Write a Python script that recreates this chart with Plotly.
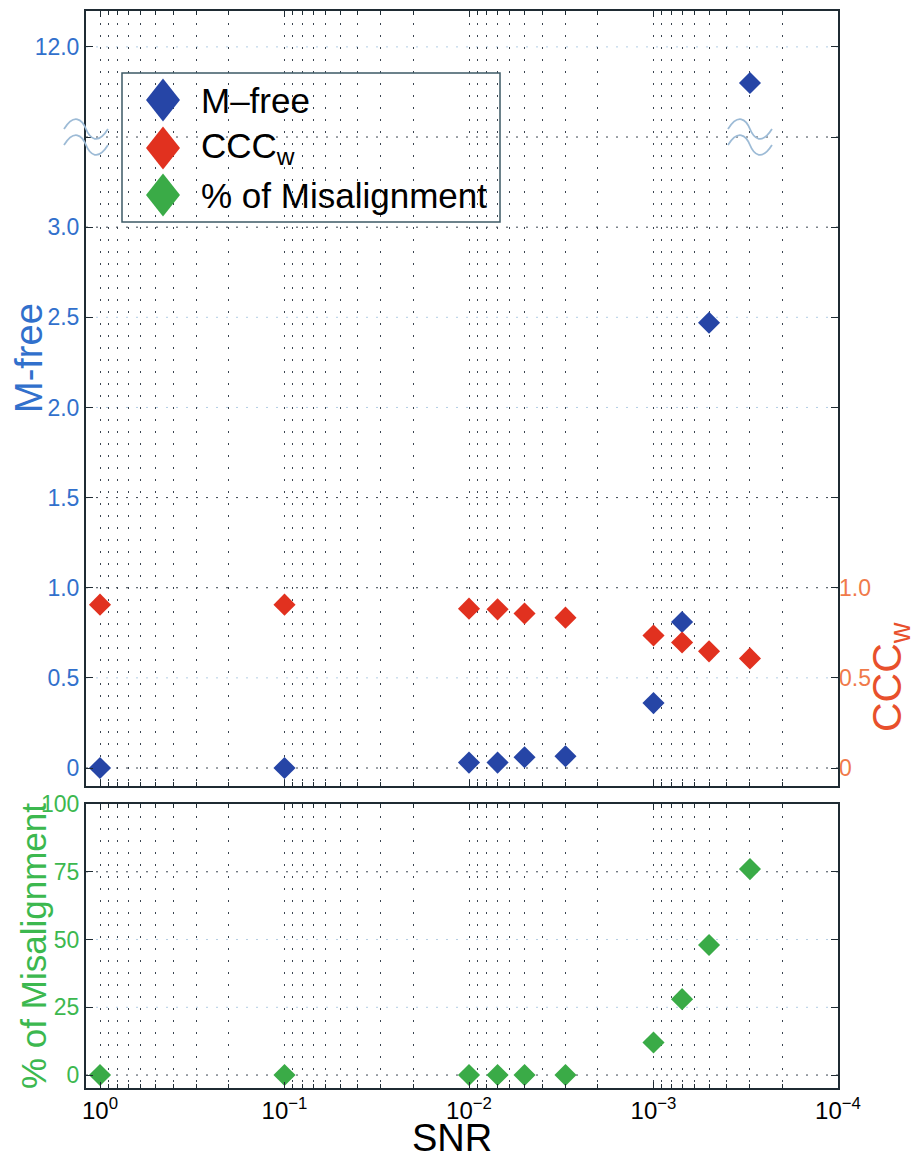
import math
import plotly.graph_objects as go

# ---- data -------------------------------------------------------------
SNR = [1, 0.1, 0.01, 0.007, 0.005, 0.003, 0.001, 0.0007, 0.0005, 0.0003]
M_FREE = [0, 0, 0.03, 0.03, 0.06, 0.065, 0.36, 0.81, 2.47, 11.8]
CCC_W = [0.906, 0.906, 0.884, 0.880, 0.857, 0.834, 0.735, 0.696, 0.647, 0.608]
MISALIGN = [0, 0, 0, 0, 0, 0, 12, 28, 48, 76]

SERIES_NAMES = ["M\u2013free", "CCC<sub>w</sub>", "% of Misalignment"]

MFREE_TICKS = [0, 0.5, 1.0, 1.5, 2.0, 2.5, 3.0, 12.0]
MFREE_TICK_TEXT = ["0", "0.5", "1.0", "1.5", "2.0", "2.5", "3.0", "12.0"]
CCC_TICKS = [0, 0.5, 1.0]
CCC_TICK_TEXT = ["0", "0.5", "1.0"]
MIS_TICKS = [0, 25, 50, 75, 100]
MIS_TICK_TEXT = ["0", "25", "50", "75", "100"]
SNR_TICKS = [1, 0.1, 0.01, 0.001, 0.0001]
SNR_TICK_TEXT = ["10<sup>0</sup>", "10<sup>\u22121</sup>", "10<sup>\u22122</sup>",
                 "10<sup>\u22123</sup>", "10<sup>\u22124</sup>"]

# ---- broken M-free axis: values above the break are shifted down -------
BREAK_AT = 3.5        # axis position of the break
BREAK_SHIFT = 8.0     # values beyond the break are drawn at v - shift


def to_axis(v):
    return v if v <= BREAK_AT else v - BREAK_SHIFT


# ---- colours / fonts ---------------------------------------------------
BLUE_MK, RED_MK, GREEN_MK = "#2645a6", "#e1311f", "#3aab47"
BLUE_TXT, RED_TXT, ORANGE_TXT, GREEN_TXT = "#3170cc", "#e8502c", "#f07a4a", "#3cb84f"
FRAME = "#1f2b33"
GRID_DARK = "#3a4450"
GRID_FAINT = "#b3cde4"
FONT = "Liberation Sans, Arial, Helvetica, sans-serif"

W, H = 916, 1160
ML, MR, MT, MB = 86, 78, 11, 72
PW, PH = W - ML - MR, H - MT - MB


def fx(px):
    return (px - ML) / PW


def fy(py):
    return (H - MB - py) / PH


X_RANGE = [0.0759, -4]
TOP_RANGE = [-0.0998, 4.199]
BOT_RANGE = [-4.78, 100.2]

minor_vals = [k * 10.0 ** (-n) for n in range(1, 5) for k in range(2, 10)]

fig = go.Figure()

fig.add_trace(go.Scatter(
    x=SNR, y=[to_axis(v) for v in M_FREE], mode="markers", name=SERIES_NAMES[0],
    marker=dict(symbol="diamond", size=17, color=BLUE_MK, line=dict(width=0)),
    xaxis="x", yaxis="y", showlegend=False))
fig.add_trace(go.Scatter(
    x=SNR, y=CCC_W, mode="markers", name="CCCw",
    marker=dict(symbol="diamond", size=17, color=RED_MK, line=dict(width=0)),
    xaxis="x", yaxis="y2", showlegend=False))
fig.add_trace(go.Scatter(
    x=SNR, y=MISALIGN, mode="markers", name=SERIES_NAMES[2],
    marker=dict(symbol="diamond", size=17, color=GREEN_MK, line=dict(width=0)),
    xaxis="x2", yaxis="y3", showlegend=False))

xcommon = dict(
    type="log", range=X_RANGE, tickvals=SNR_TICKS, automargin=False,
    showline=True, linecolor=FRAME, linewidth=2, mirror="ticks",
    ticks="inside", ticklen=6, tickcolor=FRAME,
    showgrid=True, gridcolor=GRID_DARK, griddash="2px,10px", gridwidth=1,
    zeroline=False,
    minor=dict(tickvals=minor_vals, ticks="inside", ticklen=4, tickcolor=FRAME,
               showgrid=True, gridcolor=GRID_DARK, griddash="2px,10px", gridwidth=1),
)

ycommon = dict(
    showline=True, linecolor=FRAME, linewidth=2, mirror="ticks", automargin=False,
    ticks="inside", ticklen=7, tickcolor=FRAME, showgrid=False, zeroline=False,
)

fig.update_layout(
    template="none",
    width=W, height=H,
    margin=dict(l=ML, r=MR, t=MT, b=MB, autoexpand=False),
    paper_bgcolor="white", plot_bgcolor="white",
    font=dict(family=FONT),
    showlegend=False,
    xaxis=dict(**xcommon, anchor="y", showticklabels=False, matches="x2"),
    xaxis2=dict(**xcommon, anchor="y3", ticktext=SNR_TICK_TEXT,
                tickfont=dict(size=24, color="black", family=FONT)),
    yaxis=dict(**ycommon, domain=[fy(786), 1.0], range=TOP_RANGE,
               tickvals=[to_axis(v) for v in MFREE_TICKS] + [BREAK_AT],
               ticktext=MFREE_TICK_TEXT + [""],
               tickfont=dict(size=23, color=BLUE_TXT, family=FONT)),
    yaxis2=dict(overlaying="y", side="right", anchor="x", range=TOP_RANGE,
                tickvals=CCC_TICKS, ticktext=CCC_TICK_TEXT, automargin=False,
                ticks="inside", ticklen=7, tickcolor=FRAME,
                showline=False, showgrid=False, zeroline=False,
                tickfont=dict(size=23, color=ORANGE_TXT, family=FONT)),
    yaxis3=dict(**ycommon, domain=[0, fy(803.5)], range=BOT_RANGE, anchor="x2",
                tickvals=MIS_TICKS, ticktext=MIS_TICK_TEXT,
                tickfont=dict(size=23, color=GREEN_TXT, family=FONT)),
)

shapes = []

# horizontal dotted grid lines
for lvl in [0, 1.0, 1.5, 3.0, BREAK_AT]:
    shapes.append(dict(type="line", xref="paper", yref="y", x0=0, x1=1, y0=lvl, y1=lvl,
                       line=dict(color=GRID_DARK, width=1, dash="2px,8px"), layer="below"))
for lvl in [0.5, 2.0, 2.5, to_axis(12.0)]:
    shapes.append(dict(type="line", xref="paper", yref="y", x0=0, x1=1, y0=lvl, y1=lvl,
                       line=dict(color=GRID_FAINT, width=1, dash="2px,8px"), layer="below"))
for lvl in [0, 75]:
    shapes.append(dict(type="line", xref="paper", yref="y3", x0=0, x1=1, y0=lvl, y1=lvl,
                       line=dict(color=GRID_DARK, width=1, dash="2px,8px"), layer="below"))
for lvl in [25, 50]:
    shapes.append(dict(type="line", xref="paper", yref="y3", x0=0, x1=1, y0=lvl, y1=lvl,
                       line=dict(color=GRID_FAINT, width=1, dash="2px,8px"), layer="below"))


# axis-break marks (two wavy strokes)
def wave(dy):
    return (f"M -22,{dy} C -12,{dy + 16} -4,{dy + 10} 0,{dy} "
            f"C 4,{dy - 10} 12,{dy - 16} 22,{dy}")


def x_frac(snr):
    return (X_RANGE[0] - math.log10(snr)) / (X_RANGE[0] - X_RANGE[1])


for xa in [0.0, x_frac(SNR[-1])]:
    for dy in (8, -8):
        shapes.append(dict(type="path", xref="paper", yref="y",
                           xsizemode="pixel", ysizemode="pixel",
                           xanchor=xa, yanchor=BREAK_AT, path=wave(dy),
                           line=dict(color="#9dbbd6", width=1.8)))

# legend box and swatches
LEG_ROWS = [100, 148, 195]
shapes.append(dict(type="rect", xref="paper", yref="paper",
                   x0=fx(122), x1=fx(500), y0=fy(222), y1=fy(73),
                   line=dict(color="#3d5a66", width=1.5), fillcolor="rgba(0,0,0,0)"))
for row, col in zip(LEG_ROWS, [BLUE_MK, RED_MK, GREEN_MK]):
    shapes.append(dict(type="path", xref="paper", yref="paper",
                       xsizemode="pixel", ysizemode="pixel",
                       xanchor=fx(163), yanchor=fy(row),
                       path="M 0,21.5 L 17,0 L 0,-21.5 L -17,0 Z",
                       fillcolor=col, line=dict(width=0)))

annotations = []
for row, name in zip(LEG_ROWS, SERIES_NAMES):
    annotations.append(dict(xref="paper", yref="paper", x=fx(199), y=fy(row),
                            xanchor="left", yanchor="middle", showarrow=False,
                            text=name, font=dict(size=35, color="black", family=FONT)))

# axis titles
annotations += [
    dict(xref="paper", yref="paper", x=fx(29), y=fy(358), text="M-free", textangle=-90,
         showarrow=False, xanchor="center", yanchor="middle",
         font=dict(size=38, color=BLUE_TXT, family=FONT)),
    dict(xref="paper", yref="paper", x=fx(890), y=fy(677), text="CCC<sub>w</sub>", textangle=-90,
         showarrow=False, xanchor="center", yanchor="middle",
         font=dict(size=41, color=RED_TXT, family=FONT)),
    dict(xref="paper", yref="paper", x=fx(33), y=fy(946), text="% of Misalignment", textangle=-90,
         showarrow=False, xanchor="center", yanchor="middle",
         font=dict(size=35, color=GREEN_TXT, family=FONT)),
    dict(xref="paper", yref="paper", x=fx(452), y=fy(1138), text="SNR",
         showarrow=False, xanchor="center", yanchor="middle",
         font=dict(size=38, color="black", family=FONT)),
]

fig.update_layout(shapes=shapes, annotations=annotations)

fig.write_html("out.html")
